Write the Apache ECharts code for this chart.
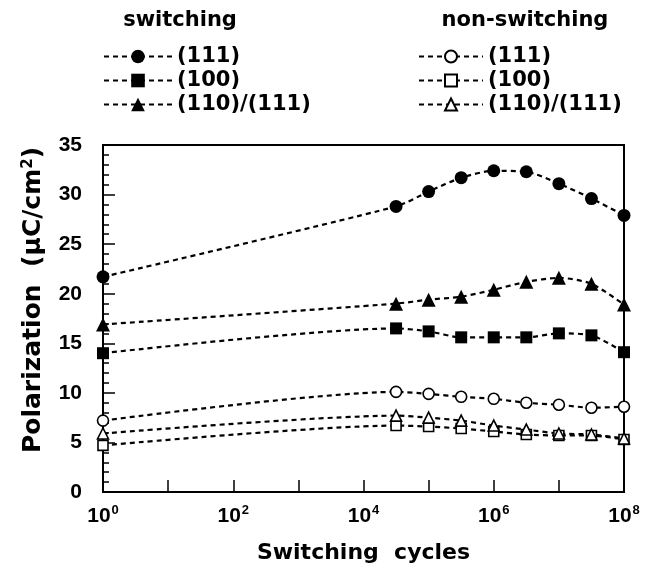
<!DOCTYPE html>
<html>
<head>
<meta charset="utf-8">
<script src="https://cdn.jsdelivr.net/npm/echarts@6/dist/echarts.min.js"></script>
<style>
  html, body { margin: 0; padding: 0; background: #fff; }
  #chart { width: 645px; height: 569px; }
</style>
</head>
<body>
<div id="chart"></div>
<script>
// Switching cycles (half-decade steps after 10^4.5)
const cycles = [1, 31623, 100000, 316228, 1000000, 3162278, 10000000, 31622777, 100000000];

// Polarization (µC/cm²) under switching
const sw111 = [21.7, 28.8, 30.3, 31.7, 32.4, 32.3, 31.1, 29.6, 27.9];
const sw100 = [14.0, 16.5, 16.2, 15.6, 15.6, 15.6, 16.0, 15.8, 14.1];
const sw110 = [16.9, 19.0, 19.4, 19.7, 20.4, 21.2, 21.6, 21.0, 18.9];

// Polarization (µC/cm²) without switching
const ns111 = [7.2, 10.1, 9.9, 9.6, 9.4, 9.0, 8.8, 8.5, 8.6];
const ns100 = [4.7, 6.7, 6.6, 6.4, 6.1, 5.8, 5.7, 5.7, 5.3];
const ns110 = [5.9, 7.7, 7.5, 7.2, 6.7, 6.3, 5.9, 5.8, 5.4];

const yTicks = [0, 5, 10, 15, 20, 25, 30, 35];
const xLabelExponents = [0, 2, 4, 6, 8];

const TICK_FONT = 'Liberation Sans';
const TEXT_FONT = 'DejaVu Sans';

function pairs(vals) {
  return cycles.map((c, i) => [c, vals[i]]);
}

function makeSeries(name, vals, symbol, filled, size) {
  return {
    name: name,
    type: 'line',
    data: pairs(vals),
    smooth: 0.25,
    symbol: symbol,
    symbolSize: size,
    showSymbol: true,
    lineStyle: { color: '#000', width: 2.2, type: [5, 4] },
    itemStyle: filled
      ? { color: '#000', borderColor: '#000', borderWidth: 0 }
      : { color: '#fff', borderColor: '#000', borderWidth: 1.6 },
    emphasis: { disabled: true },
    z: filled ? 3 : 4
  };
}

const series = [
  makeSeries('sw|(111)', sw111, 'circle', true, 13),
  makeSeries('sw|(100)', sw100, 'rect', true, 12),
  makeSeries('sw|(110)/(111)', sw110, 'triangle', true, 14),
  makeSeries('ns|(111)', ns111, 'circle', false, 11),
  makeSeries('ns|(100)', ns100, 'rect', false, 10),
  makeSeries('ns|(110)/(111)', ns110, 'triangle', false, 11)
];

const legendText = {
  fontFamily: TEXT_FONT, fontWeight: 'bold', fontSize: 21, color: '#000', lineHeight: 23
};
const headerText = {
  fontFamily: TEXT_FONT, fontWeight: 'bold', fontSize: 21, color: '#000'
};

const chart = echarts.init(document.getElementById('chart'), null, { renderer: 'canvas' });

chart.setOption({
  animation: false,
  backgroundColor: '#fff',
  title: [
    { text: 'switching', left: 180, top: 10, textAlign: 'center', padding: 0, textStyle: headerText },
    { text: 'non-switching', left: 525, top: 10, textAlign: 'center', padding: 0, textStyle: headerText }
  ],
  legend: [
    {
      data: ['sw|(111)', 'sw|(100)', 'sw|(110)/(111)'],
      orient: 'vertical', left: 103, top: 45, padding: 0,
      itemWidth: 68, itemHeight: 17, itemGap: 1,
      formatter: n => n.split('|')[1],
      textStyle: legendText,
      selectedMode: false
    },
    {
      data: ['ns|(111)', 'ns|(100)', 'ns|(110)/(111)'],
      orient: 'vertical', left: 418, top: 45, padding: 0,
      itemWidth: 64, itemHeight: 15, itemGap: 1,
      formatter: n => n.split('|')[1],
      textStyle: legendText,
      selectedMode: false
    }
  ],
  grid: {
    left: 103, right: 21, top: 145, bottom: 70,
    show: true, borderColor: '#000', borderWidth: 2, backgroundColor: 'transparent'
  },
  xAxis: {
    type: 'log', logBase: 10, min: 1, max: 100000000, splitNumber: 8,
    axisLine: { lineStyle: { color: '#000', width: 2 } },
    axisTick: { inside: true, length: 12, lineStyle: { color: '#000', width: 1.5 } },
    splitLine: { show: false },
    axisLabel: {
      margin: 12,
      formatter: v => {
        const e = Math.round(Math.log10(v));
        return xLabelExponents.indexOf(e) >= 0 ? '10{sup|' + e + '}' : '';
      },
      fontFamily: TICK_FONT, fontWeight: 'bold', fontSize: 21, color: '#000',
      lineHeight: 24,
      rich: {
        sup: { fontFamily: TICK_FONT, fontWeight: 'bold', fontSize: 13, color: '#000', verticalAlign: 'top', lineHeight: 24, padding: [0, 0, 10, 1] }
      }
    },
    name: 'Switching  cycles',
    nameLocation: 'middle', nameGap: 50,
    nameTextStyle: { fontFamily: TEXT_FONT, fontWeight: 'bold', fontSize: 22, color: '#000' }
  },
  yAxis: {
    type: 'value', min: 0, max: 35, interval: 5,
    axisLine: { show: true, lineStyle: { color: '#000', width: 2 } },
    axisTick: { show: true, inside: true, length: 12, lineStyle: { color: '#000', width: 1.5 } },
    minorTick: { show: true, splitNumber: 5, length: 6, lineStyle: { color: '#000', width: 1.5 } },
    splitLine: { show: false },
    axisLabel: {
      margin: 21,
      formatter: v => (yTicks.indexOf(v) >= 0 ? String(v) : ''),
      fontFamily: TICK_FONT, fontWeight: 'bold', fontSize: 21, color: '#000'
    }
  },
  graphic: [
    {
      type: 'text',
      x: 33, y: 300, rotation: Math.PI / 2,
      style: {
        text: 'Polarization  (μC/cm{sup|2})',
        fontFamily: TEXT_FONT, fontWeight: 'bold', fontSize: 25, fill: '#000',
        align: 'center', verticalAlign: 'middle',
        rich: {
          sup: { fontFamily: TEXT_FONT, fontWeight: 'bold', fontSize: 15, fill: '#000', verticalAlign: 'top', padding: [0, 0, 10, 0] }
        }
      }
    }
  ],
  series: series
});
</script>
</body>
</html>
